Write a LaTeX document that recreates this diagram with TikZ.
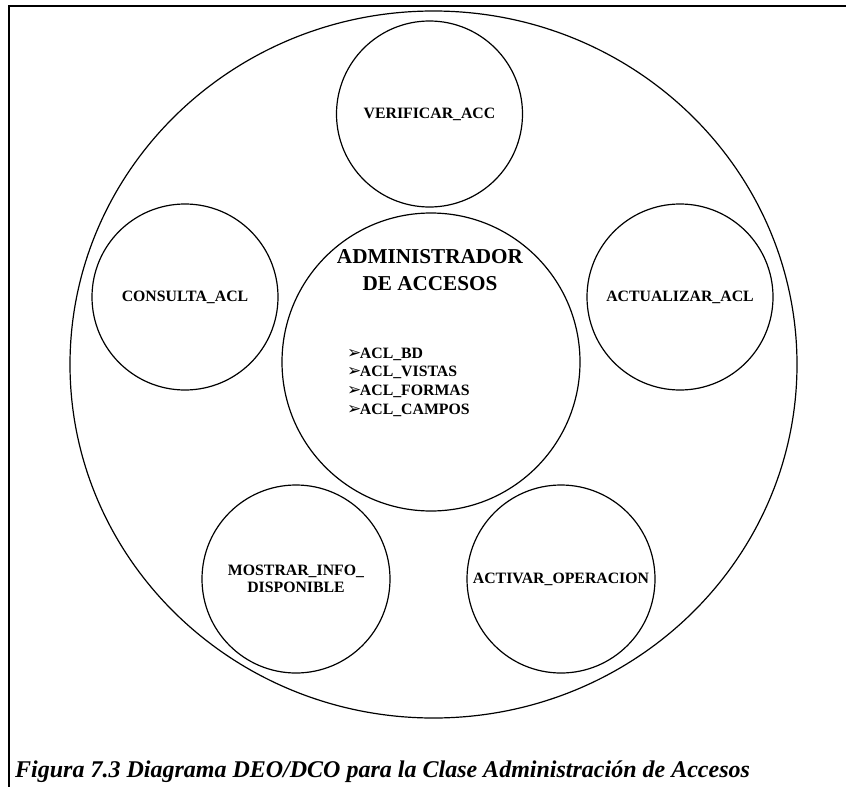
\documentclass[tikz,border=0pt]{standalone}
\usepackage{fontspec}
\setmainfont{Liberation Serif}
\newfontfamily\dingfont{DejaVu Sans}
\usetikzlibrary{shapes.geometric}

\newcommand{\flecha}{{\dingfont\fontsize{17}{17}\selectfont\char"27A2}\kern-1.5pt}

\tikzset{
  proc/.style={circle, draw, line width=1.2pt, minimum size=186pt, inner sep=0pt,
    align=center, font=\fontsize{15.8}{17.5}\selectfont\bfseries},
  titulo/.style={align=center, inner sep=0pt, font=\fontsize{21.2}{27}\selectfont\bfseries},
  lista/.style={align=left, inner sep=0pt, font=\fontsize{15.8}{18.7}\selectfont\bfseries},
  pie/.style={inner sep=0pt, font=\fontsize{24}{28}\selectfont\bfseries\itshape}
}

\begin{document}
\begin{tikzpicture}[x=1pt,y=-1pt]
        \useasboundingbox (0,0) rectangle (846,787);
        \draw[line width=1.6pt] (9,787) -- (9,6) -- (846,6);

        \node[draw, ellipse, line width=1.2pt, minimum width=727pt, minimum height=707pt, inner sep=0pt] at (433.5, 364.5)(clase){};

        \node[proc] at (429.5, 114)(verificar){VERIFICAR\_ACC};
        \node[proc] at (185, 297)(consulta){CONSULTA\_ACL};
        \node[proc] at (680, 297)(actualizar){ACTUALIZAR\_ACL};
        \node[proc, minimum size=188pt] at (296, 579)(mostrar){MOSTRAR\_INFO\_\\DISPONIBLE};
        \node[proc, minimum size=188pt] at (561, 579)(activar){ACTIVAR\_OPERACION};

        \node[proc, minimum size=298pt] at (431, 362)(admin){};
        \node[titulo] at (430, 270)(admintitulo){ADMINISTRADOR\\DE ACCESOS};
        \node[lista, anchor=west] at (347, 382)(tablas){\flecha ACL\_BD\\\flecha ACL\_VISTAS\\\flecha ACL\_FORMAS\\\flecha ACL\_CAMPOS};

        \node[pie, anchor=base west] at (15, 777)(figura){Figura 7.3 Diagrama DEO/DCO para la Clase Administración de Accesos};
    \end{tikzpicture}
\end{document}
